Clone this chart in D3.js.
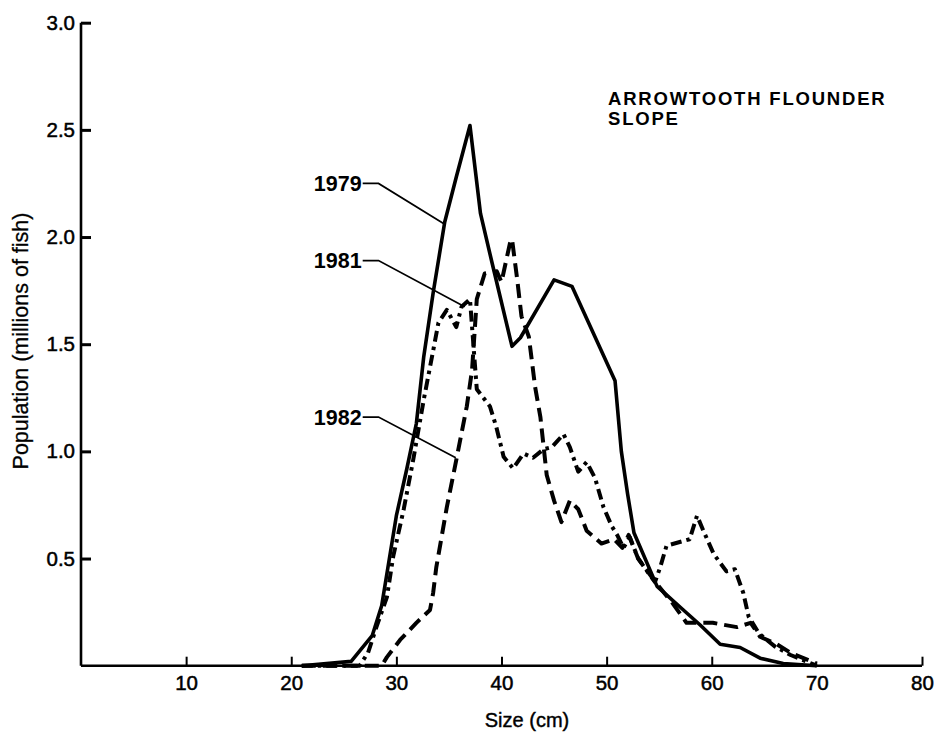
<!DOCTYPE html>
<html>
<head>
<meta charset="utf-8">
<script src="https://cdn.jsdelivr.net/npm/d3@7"></script>
<style>
  html, body { margin: 0; padding: 0; background: #fff; }
  svg { display: block; }
  text { font-family: "Liberation Sans", Arial, Helvetica, sans-serif; fill: #000; }
</style>
</head>
<body>
<script>
// ---- data (size in cm, population in millions of fish) ----
const xTicks = [10, 20, 30, 40, 50, 60, 70, 80];
const yTicks = [0.5, 1.0, 1.5, 2.0, 2.5, 3.0];

const series1979 = [
  [21,0],[25.7,0.02],[27.7,0.14],[28.6,0.28],[30,0.70],[31,0.92],[31.9,1.13],[32.6,1.44],
  [33.5,1.74],[34.6,2.07],[35.7,2.28],[37,2.52],[38,2.11],[39.1,1.88],[41,1.49],[41.8,1.53],
  [45,1.80],[46.7,1.77],[50.8,1.33],[51.4,1.0],[52,0.80],[52.6,0.62],[54.8,0.37],[57.3,0.26],
  [58.9,0.19],[60.8,0.10],[62.7,0.085],[64.6,0.035],[66.8,0.01],[70,0]
];
const series1981 = [
  [21,0],[26.5,0],[27.3,0.06],[28.1,0.18],[29.1,0.32],[29.7,0.51],[30.7,0.73],[31.6,0.96],
  [32.6,1.24],[33.5,1.47],[34,1.60],[34.8,1.66],[35.7,1.58],[36.2,1.675],[37,1.71],[37.4,1.45],
  [37.65,1.29],[38.9,1.21],[39.5,1.115],[40.2,0.975],[41.1,0.92],[42.1,0.99],[43,0.97],[44,1.01],
  [44.8,1.02],[45.9,1.08],[46.5,1.02],[47.3,0.905],[48.1,0.95],[48.9,0.875],[49.7,0.74],[50.5,0.65],
  [51,0.61],[51.6,0.55],[52.2,0.60],[53,0.50],[54.6,0.39],[55.1,0.46],[55.7,0.56],[57.9,0.59],
  [58.6,0.70],[59.2,0.63],[60.2,0.52],[61.4,0.44],[62.2,0.45],[63,0.34],[63.5,0.23],[64.5,0.15],
  [66,0.09],[67.5,0.05],[70,0]
];
const series1982 = [
  [21,0],[28.6,0],[29.1,0.04],[30.35,0.12],[31.9,0.20],[33.2,0.26],[33.5,0.34],[33.8,0.46],
  [34.8,0.74],[35.7,0.96],[36.7,1.21],[37.2,1.38],[37.5,1.60],[37.65,1.71],[38.4,1.83],[39.55,1.84],
  [40,1.79],[40.8,1.97],[41,1.99],[41.5,1.80],[41.9,1.63],[42.6,1.535],[43.2,1.30],[43.7,1.16],
  [44.3,0.89],[45,0.77],[45.7,0.67],[46.5,0.77],[47.3,0.73],[48.1,0.63],[49.5,0.57],[50.7,0.59],
  [51.5,0.55],[52.1,0.61],[53,0.50],[54.8,0.38],[56.3,0.29],[57.6,0.20],[60.1,0.20],[62.4,0.18],
  [63.7,0.20],[64.6,0.135],[66.2,0.10],[67.5,0.06],[70,0.01]
];

// labels: [text, label x, label y, knee x, end x, end y] in data units
const seriesLabels = [
  ["1979", 26.7, 2.25, 28.3, 34.6, 2.06],
  ["1981", 26.7, 1.89, 28.3, 36.5, 1.675],
  ["1982", 26.7, 1.16, 28.3, 35.65, 0.97]
];
const titleLines = ["ARROWTOOTH FLOUNDER", "SLOPE"];
const xTitle = "Size (cm)";
const yTitle = "Population (millions of fish)";

// ---- drawing ----
const W = 937, H = 735;
const svg = d3.select("body").append("svg").attr("width", W).attr("height", H);
svg.append("rect").attr("width", W).attr("height", H).attr("fill", "#fff");

const x = d3.scaleLinear().domain([0, 80]).range([81, 922]);
const y = d3.scaleLinear().domain([0, 3]).range([665.7, 22.7]);

// x axis
const xAxis = svg.append("g").attr("transform", `translate(0,${y(0)})`)
  .call(d3.axisBottom(x).tickValues(xTicks).tickSize(-9).tickPadding(9.5).tickFormat(d3.format("d")));
xAxis.select(".domain").attr("d", `M${x(0)},0H${x(80)}`).attr("stroke-width", 2.6);
xAxis.selectAll(".tick line").attr("stroke-width", 2).attr("stroke-opacity", d => d === 70 ? 0 : 1);
xAxis.selectAll(".tick text").attr("font-size", 20.5)
  .attr("stroke", "#000").attr("stroke-width", 0.5);

// y axis
const yAxis = svg.append("g").attr("transform", `translate(${x(0)},0)`)
  .call(d3.axisLeft(y).tickValues(yTicks).tickSize(-10).tickPadding(6).tickFormat(d3.format(".1f")));
yAxis.select(".domain").attr("d", `M0,${y(0)}V${y(3)}`).attr("stroke-width", 2.6);
yAxis.selectAll(".tick line").attr("stroke-width", 3);
yAxis.selectAll(".tick text").attr("font-size", 20.5)
  .attr("stroke", "#000").attr("stroke-width", 0.5);

// axis titles
svg.append("text").attr("x", 527).attr("y", 727)
  .attr("text-anchor", "middle").attr("font-size", 20)
  .attr("stroke", "#000").attr("stroke-width", 0.4).text(xTitle);
svg.append("text").attr("transform", `translate(28,341) rotate(-90)`)
  .attr("text-anchor", "middle").attr("font-size", 21.5)
  .attr("stroke", "#000").attr("stroke-width", 0.3).text(yTitle);

// title
titleLines.forEach((t, i) => {
  svg.append("text").attr("x", 608).attr("y", 105 + i * 19.5)
    .attr("font-size", 18.5).attr("font-weight", "bold").attr("letter-spacing", 1.8).text(t);
});

// lines
const line = d3.line().x(d => x(d[0])).y(d => y(d[1]));
svg.append("path").datum(series1982).attr("d", line).attr("fill", "none")
  .attr("stroke", "#000").attr("stroke-width", 4).attr("stroke-dasharray", "14,7")
  .attr("stroke-linejoin", "round");
svg.append("path").datum(series1981).attr("d", line).attr("fill", "none")
  .attr("stroke", "#000").attr("stroke-width", 4).attr("stroke-dasharray", "11,5,3.5,5")
  .attr("stroke-linejoin", "round");
svg.append("path").datum(series1979).attr("d", line).attr("fill", "none")
  .attr("stroke", "#000").attr("stroke-width", 3.6).attr("stroke-linejoin", "round");

// series labels with leader lines
seriesLabels.forEach(([t, lx, ly, kx, ex, ey]) => {
  svg.append("text").attr("x", x(lx)).attr("y", y(ly)).attr("dy", "0.36em")
    .attr("text-anchor", "end").attr("font-size", 21.5).attr("font-weight", "bold").text(t);
  svg.append("path")
    .attr("d", `M${x(lx) + 1},${y(ly)}H${x(kx)}L${x(ex)},${y(ey)}`)
    .attr("fill", "none").attr("stroke", "#000").attr("stroke-width", 1.7);
});
</script>
</body>
</html>
